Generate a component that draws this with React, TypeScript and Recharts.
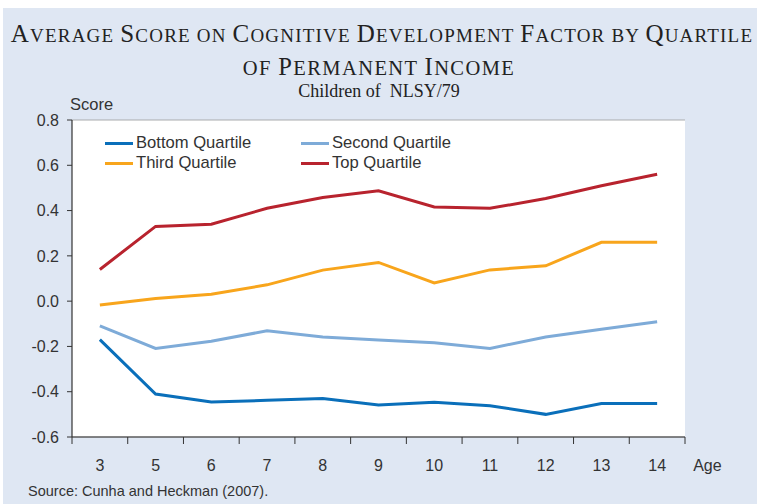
import React from 'react';
import { LineChart, Line, XAxis, YAxis, CartesianGrid } from 'recharts';

const AGES = ['3', '5', '6', '7', '8', '9', '10', '11', '12', '13', '14'];
const BOTTOM = [-0.17, -0.41, -0.445, -0.438, -0.43, -0.459, -0.447, -0.462, -0.5, -0.452, -0.452];
const SECOND = [-0.109, -0.209, -0.177, -0.131, -0.158, -0.172, -0.184, -0.209, -0.158, -0.124, -0.091];
const THIRD = [-0.017, 0.012, 0.03, 0.072, 0.137, 0.171, 0.08, 0.138, 0.156, 0.26, 0.26];
const TOP = [0.14, 0.33, 0.34, 0.41, 0.458, 0.487, 0.416, 0.41, 0.453, 0.51, 0.56];
const Y_TICKS = [-0.6, -0.4, -0.2, 0.0, 0.2, 0.4, 0.6, 0.8];

const SERIES = [
  { key: 'bottom', name: 'Bottom Quartile', color: '#0a6fba' },
  { key: 'second', name: 'Second Quartile', color: '#7eabd8' },
  { key: 'third', name: 'Third Quartile', color: '#f8a51c' },
  { key: 'top', name: 'Top Quartile', color: '#b8232e' },
];

const TITLE_1: [string, string][] = [
  ['A', 'VERAGE '], ['S', 'CORE ON '], ['C', 'OGNITIVE '], ['D', 'EVELOPMENT '], ['F', 'ACTOR BY '], ['Q', 'UARTILE'],
];
const TITLE_2: [string, string][] = [['', 'OF '], ['P', 'ERMANENT '], ['I', 'NCOME']];
const SUBTITLE = 'Children of\u00a0 NLSY/79';

const data = AGES.map((age, i) => ({
  age,
  bottom: BOTTOM[i],
  second: SECOND[i],
  third: THIRD[i],
  top: TOP[i],
}));

const W = 757;
const H = 504;
const M = { top: 120, right: 72, bottom: 37, left: 12 };
const Y_AXIS_W = 60;
const PLOT_W = W - M.left - Y_AXIS_W - M.right;
const TICK_SIZE = 6;
const TICK_MARGIN = 2;
const SANS = 'Arial, "Liberation Sans", sans-serif';
const SERIF = '"Times New Roman", "Liberation Serif", serif';

const XTick = (props: any) => {
  const { x, y, payload, index } = props;
  const bw = PLOT_W / AGES.length;
  const axisY = y - TICK_SIZE - TICK_MARGIN;
  const last = index === AGES.length - 1;
  return (
    <g>
      <line x1={x - bw / 2} x2={x - bw / 2} y1={axisY} y2={axisY + 7} stroke="#333" strokeWidth={1} />
      {last && <line x1={x + bw / 2} x2={x + bw / 2} y1={axisY} y2={axisY + 7} stroke="#333" strokeWidth={1} />}
      <text x={x} y={y + 26} textAnchor="middle" fontSize={16} fill="#333" fontFamily={SANS}>
        {payload.value}
      </text>
      {last && (
        <text x={x + 36} y={y + 26} textAnchor="start" fontSize={16} fill="#333" fontFamily={SANS}>
          Age
        </text>
      )}
    </g>
  );
};

export default function App() {
  return (
    <div style={{ position: 'absolute', left: 0, top: 0, width: W, height: H, background: '#fff', overflow: 'hidden' }}>
      <div style={{ position: 'absolute', left: 3, top: 8, width: W - 3, height: H - 8, background: '#dfe7f3' }} />
      <svg width={W} height={110} style={{ position: 'absolute', left: 0, top: 0 }}>
        <text x={382} y={42} textAnchor="middle" fontFamily={SERIF} fill="#222" letterSpacing={1.2}>
          {TITLE_1.map(([b, s], i) => (
            <React.Fragment key={i}>
              <tspan fontSize={25}>{b}</tspan>
              <tspan fontSize={19}>{s}</tspan>
            </React.Fragment>
          ))}
        </text>
        <text x={379} y={75} textAnchor="middle" fontFamily={SERIF} fill="#222" letterSpacing={1.4}>
          {TITLE_2.map(([b, s], i) => (
            <React.Fragment key={i}>
              <tspan fontSize={24.5}>{b}</tspan>
              <tspan fontSize={20.5}>{s}</tspan>
            </React.Fragment>
          ))}
        </text>
        <text x={379} y={97} textAnchor="middle" fontFamily={SERIF} fill="#222" fontSize={18}>
          {SUBTITLE}
        </text>
      </svg>
      <div style={{ position: 'absolute', left: 70, top: 94, fontFamily: SANS, fontSize: 16.5, color: '#333', lineHeight: '20px' }}>
        Score
      </div>
      <div style={{ position: 'absolute', left: 28, top: 482, fontFamily: SANS, fontSize: 14.5, color: '#333', lineHeight: '18px' }}>
        Source: Cunha and Heckman (2007).
      </div>
      <div style={{ position: 'absolute', left: 0, top: 0 }}>
        <LineChart width={W} height={H} data={data} margin={M}>
          <CartesianGrid horizontal vertical={false} stroke="#a9abae" strokeWidth={1.2} fill="#ffffff" fillOpacity={1} />
          <XAxis
            dataKey="age"
            type="category"
            scale="band"
            axisLine={{ stroke: '#333', strokeWidth: 1.2 }}
            tickLine={false}
            tickSize={TICK_SIZE}
            tickMargin={TICK_MARGIN}
            tick={<XTick />}
            interval={0}
            height={30}
          />
          <YAxis
            yAxisId="left"
            domain={[-0.6, 0.8]}
            ticks={Y_TICKS}
            type="number"
            width={Y_AXIS_W}
            axisLine={{ stroke: '#333', strokeWidth: 1.2 }}
            tickLine={{ stroke: '#333' }}
            tickSize={5}
            tickMargin={8}
            tick={{ fontSize: 16, fill: '#333', fontFamily: SANS }}
            tickFormatter={(v: number) => v.toFixed(1)}
            allowDataOverflow
          />
          <YAxis
            yAxisId="right"
            orientation="right"
            domain={[-0.6, 0.8]}
            ticks={[]}
            width={0}
            axisLine={{ stroke: '#8e9196', strokeWidth: 1.5 }}
            tickLine={false}
            tick={false}
          />
          {SERIES.map((s) => (
            <Line
              key={s.key}
              yAxisId="left"
              dataKey={s.key}
              name={s.name}
              stroke={s.color}
              strokeWidth={3}
              dot={false}
              activeDot={false}
              type="linear"
              isAnimationActive={false}
            />
          ))}
        </LineChart>
      </div>
      <div
        style={{
          position: 'absolute', left: 82, top: 131, width: 393, height: 44, background: '#fff',
          fontFamily: SANS, fontSize: 16.6, color: '#333',
        }}
      >
        {SERIES.map((s, i) => (
          <div
            key={s.key}
            style={{
              position: 'absolute',
              left: i % 2 === 0 ? 23 : 219,
              top: i < 2 ? 2 : 22,
              height: 20,
              display: 'flex',
              alignItems: 'center',
              whiteSpace: 'nowrap',
            }}
          >
            <span style={{ display: 'inline-block', width: 28, height: 3, background: s.color, marginRight: 3 }} />
            <span>{s.name}</span>
          </div>
        ))}
      </div>
    </div>
  );
}
